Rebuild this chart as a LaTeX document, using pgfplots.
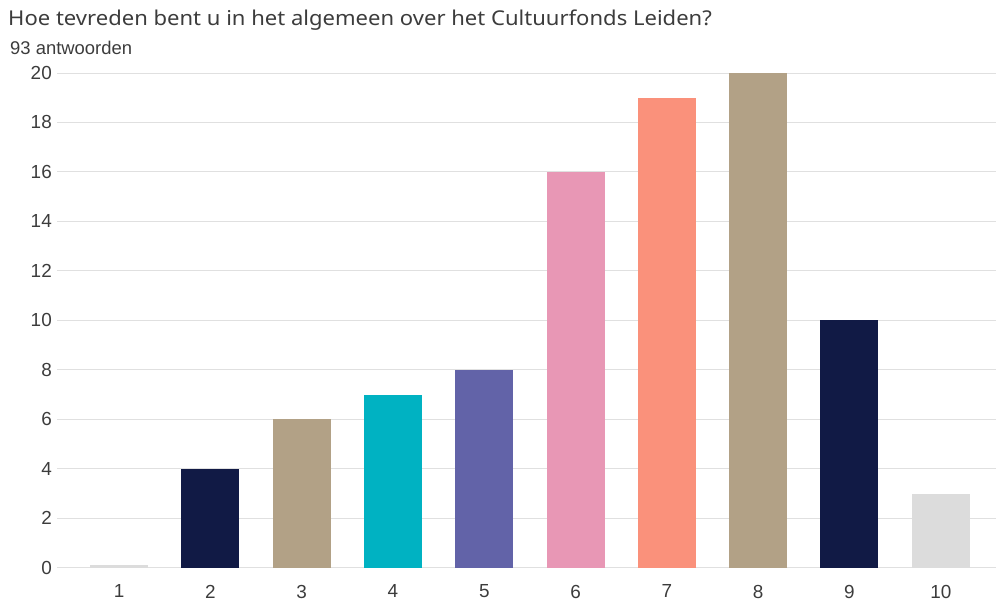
\documentclass[border=0pt]{standalone}
\usepackage{fontspec}
\setmainfont{Liberation Sans}
\newfontfamily\titlefont[FakeStretch=1.08]{Noto Sans}
\usepackage{pgfplots}
\pgfplotsset{compat=1.18}
\definecolor{navy}{HTML}{111A45}
\definecolor{tan}{HTML}{B2A186}
\definecolor{teal}{HTML}{00B2C2}
\definecolor{violet}{HTML}{6263A8}
\definecolor{pinkbar}{HTML}{E897B5}
\definecolor{salmon}{HTML}{FA917B}
\definecolor{lightbar}{HTML}{DCDCDC}
\definecolor{txt}{HTML}{3C3C3C}

\begin{document}
\begin{tikzpicture}
  % keeps the page at the reference proportions
  \path (-57bp,-36bp) rectangle (939bp,568bp);
  \begin{axis}[
      at={(0,0)}, anchor=south west,
      scale only axis, width=939bp, height=495bp,
      xmin=0.32, xmax=10.6, ymin=0, ymax=20,
      xtick={1,...,10}, ytick={0,2,...,20},
      axis line style={draw=none}, major tick length=0pt,
      ymajorgrids, grid style={draw=black!12, line width=0.9bp},
      tick label style={font=\fontsize{19}{21}\selectfont, text=txt, inner sep=0pt},
      /pgf/number format/assume math mode=true,
      xticklabel style={yshift=-17bp},
      yticklabel style={xshift=-5bp},
      clip=false,
    ]
    \addplot[ybar, bar width=58bp, draw=none, fill=lightbar] coordinates {(1,0.12)};
    \addplot[ybar, bar width=58bp, draw=none, fill=navy]     coordinates {(2,4)};
    \addplot[ybar, bar width=58bp, draw=none, fill=tan]      coordinates {(3,6)};
    \addplot[ybar, bar width=58bp, draw=none, fill=teal]     coordinates {(4,7)};
    \addplot[ybar, bar width=58bp, draw=none, fill=violet]   coordinates {(5,8)};
    \addplot[ybar, bar width=58bp, draw=none, fill=pinkbar]  coordinates {(6,16)};
    \addplot[ybar, bar width=58bp, draw=none, fill=salmon]   coordinates {(7,19)};
    \addplot[ybar, bar width=58bp, draw=none, fill=tan]      coordinates {(8,20)};
    \addplot[ybar, bar width=58bp, draw=none, fill=navy]     coordinates {(9,10)};
    \addplot[ybar, bar width=58bp, draw=none, fill=lightbar] coordinates {(10,3)};
  \end{axis}
  \node[anchor=base west, inner sep=0, text=txt] at (-49bp,542bp)
    {\titlefont\fontsize{20.5}{24}\selectfont Hoe tevreden bent u in het algemeen over het Cultuurfonds Leiden?};
  \node[anchor=base west, inner sep=0, text=txt] at (-47bp,513bp)
    {\fontsize{18.5}{21}\selectfont 93 antwoorden};
\end{tikzpicture}
\end{document}
